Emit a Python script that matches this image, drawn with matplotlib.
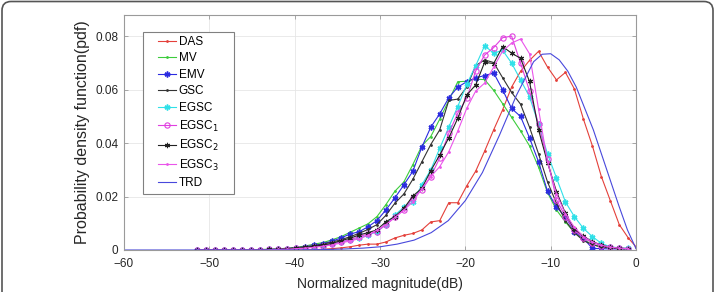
import numpy as np
import matplotlib
matplotlib.use('Agg')
import matplotlib.pyplot as plt
from matplotlib.patches import FancyBboxPatch, Rectangle
from matplotlib.transforms import IdentityTransform

plt.rcParams['font.family'] = ['Liberation Sans', 'DejaVu Sans']

# bin centres (dB) shared by the histogram curves
bins = [-51.4, -50.35, -49.3, -48.24, -47.19, -46.14, -45.09, -44.04, -42.98, -41.93,
        -40.88, -39.83, -38.78, -37.72, -36.67, -35.62, -34.57, -33.52, -32.46, -31.41,
        -30.36, -29.31, -28.26, -27.2, -26.15, -25.1, -24.05, -23.0, -21.94, -20.89,
        -19.84, -18.79, -17.74, -16.68, -15.63, -14.58, -13.53, -12.48, -11.42, -10.37,
        -9.32, -8.27, -7.22, -6.16, -5.11, -4.06, -3.01, -1.96, -0.9]

das = [0, 0, 0, 0, 0, 0, 0, 0, 0, 0,
       0, 0, 0, 0.0001, 0.0003, 0.0005, 0.0008, 0.0012, 0.0018, 0.0022,
       0.0022, 0.003, 0.0045, 0.0055, 0.0062, 0.0075, 0.0105, 0.011, 0.0177, 0.0177,
       0.024, 0.0295, 0.037, 0.045, 0.0525, 0.061, 0.0669, 0.071, 0.0744, 0.0685,
       0.0637, 0.0665, 0.0603, 0.049, 0.039, 0.0275, 0.0185, 0.0095, 0.0045]
das_end = 0.0012

mv = [0, 0, 0, 0, 0, 0, 0.0001, 0.0002, 0.0003, 0.0004,
      0.0007, 0.001, 0.0015, 0.0022, 0.0028, 0.0038, 0.005, 0.0066, 0.0082, 0.0098,
      0.0125, 0.017, 0.022, 0.0255, 0.032, 0.039, 0.0425, 0.049, 0.056, 0.063,
      0.0632, 0.064, 0.0638, 0.0598, 0.0548, 0.0497, 0.0446, 0.039, 0.031, 0.0215,
      0.015, 0.0105, 0.0065, 0.004, 0.002, 0.0012, 0.0008, 0.0005, 0.0004]

emv = [0, 0, 0, 0, 0, 0, 0, 0, 0.0001, 0.0002,
       0.0005, 0.0008, 0.0012, 0.0017, 0.0024, 0.0033, 0.0045, 0.006, 0.0068, 0.0087,
       0.011, 0.015, 0.0195, 0.0244, 0.0295, 0.0385, 0.046, 0.051, 0.057, 0.061,
       0.063, 0.0645, 0.0653, 0.0663, 0.060, 0.053, 0.050, 0.042, 0.033, 0.022,
       0.016, 0.0125, 0.0069, 0.0044, 0.0006, 0.0005, 0.0004, 0.0004, 0.0004]

gsc = [0, 0, 0, 0, 0, 0, 0.0001, 0.0001, 0.0002, 0.0003,
       0.0005, 0.0008, 0.0012, 0.0016, 0.0022, 0.003, 0.0038, 0.005, 0.0062, 0.0077,
       0.0095, 0.013, 0.0175, 0.021, 0.0265, 0.033, 0.0395, 0.045, 0.056, 0.0565,
       0.061, 0.069, 0.0712, 0.0702, 0.0645, 0.059, 0.0546, 0.046, 0.036, 0.0255,
       0.0175, 0.011, 0.0065, 0.0035, 0.002, 0.0011, 0.0007, 0.0005, 0.0004]

egsc = [0, 0, 0, 0, 0, 0, 0, 0.0001, 0.0002, 0.0003,
        0.0004, 0.0006, 0.0009, 0.0012, 0.0016, 0.0022, 0.003, 0.0037, 0.0044, 0.0055,
        0.0069, 0.0095, 0.0131, 0.016, 0.018, 0.0244, 0.030, 0.0381, 0.046, 0.0537,
        0.062, 0.069, 0.0765, 0.0737, 0.0748, 0.070, 0.0637, 0.0574, 0.047, 0.036,
        0.027, 0.018, 0.0125, 0.0081, 0.005, 0.0025, 0.0012, 0.0008, 0.0006]

egsc1 = [0, 0, 0, 0, 0, 0, 0, 0.0001, 0.0002, 0.0003,
         0.0004, 0.0006, 0.0009, 0.0012, 0.0016, 0.0022, 0.003, 0.0038, 0.005, 0.006,
         0.0068, 0.0095, 0.0122, 0.015, 0.0195, 0.0225, 0.0275, 0.0345, 0.0437, 0.0512,
         0.0568, 0.067, 0.073, 0.0758, 0.0795, 0.0801, 0.070, 0.0596, 0.047, 0.034,
         0.0188, 0.0125, 0.0075, 0.0044, 0.0028, 0.0016, 0.001, 0.0007, 0.0005]

egsc2 = [0, 0, 0, 0, 0, 0, 0, 0.0001, 0.0002, 0.0003,
         0.0005, 0.0007, 0.001, 0.0014, 0.0019, 0.0025, 0.0035, 0.0044, 0.0056, 0.0065,
         0.0075, 0.0106, 0.0125, 0.0156, 0.0202, 0.0231, 0.0297, 0.0356, 0.042, 0.0493,
         0.058, 0.0618, 0.0703, 0.0698, 0.0762, 0.0737, 0.0718, 0.0631, 0.045, 0.0327,
         0.0219, 0.0137, 0.0078, 0.0052, 0.0031, 0.0019, 0.001, 0.0007, 0.0005]

egsc3 = [0, 0, 0, 0, 0, 0, 0, 0, 0.0001, 0.0002,
         0.0003, 0.0005, 0.0007, 0.001, 0.0014, 0.0019, 0.0026, 0.0034, 0.0042, 0.0055,
         0.0075, 0.0095, 0.0122, 0.015, 0.018, 0.023, 0.0275, 0.0312, 0.0368, 0.0445,
         0.053, 0.0595, 0.0625, 0.0685, 0.0745, 0.0775, 0.079, 0.0735, 0.0527, 0.033,
         0.021, 0.0135, 0.0085, 0.005, 0.003, 0.0018, 0.0011, 0.0007, 0.0005]

trd_x = [-60, -40, -36, -34, -32, -30, -28, -26, -24, -22, -20, -18, -16, -14,
         -12, -11, -10, -9, -8, -7, -6, -5, -4, -3, -2, -1, 0]
trd = [0, 0, 0.0002, 0.0004, 0.0007, 0.0012, 0.0022, 0.0037, 0.0065, 0.011, 0.0185,
       0.029, 0.043, 0.058, 0.0705, 0.0733, 0.0735, 0.0712, 0.067, 0.061, 0.053, 0.045,
       0.0355, 0.026, 0.0165, 0.0075, 0.0005]

fig = plt.figure(figsize=(7.15, 2.92), dpi=100)
ax = fig.add_axes([124/715, 1 - 250/292, 512/715, 235/292])

ast = (6, 2, 0)
ax.plot(bins + [0], das + [das_end], color='#e4403a', lw=0.8, marker='.', ms=2, label='DAS')
ax.plot(bins, mv, color='#3ccc3c', lw=0.8, marker='.', ms=2, label='MV')
ax.plot(bins, emv, color='#2b2be0', lw=0.8, marker=ast, ms=4.2, mew=1.1, label='EMV')
ax.plot(bins, gsc, color='#333333', lw=0.8, marker='.', ms=2, label='GSC')
ax.plot(bins, egsc, color='#30e0e8', lw=0.8, marker=ast, ms=4.2, mew=1.1, label='EGSC')
ax.plot(bins, egsc1, color='#e040e0', lw=0.8, marker='o', ms=3.8, mfc='none', mew=0.8,
        label='EGSC$_1$')
ax.plot(bins, egsc2, color='#222222', lw=0.8, marker=ast, ms=3.8, mew=0.8, label='EGSC$_2$')
ax.plot(bins, egsc3, color='#ea55ea', lw=0.8, marker='.', ms=2, label='EGSC$_3$')
ax.plot(trd_x, trd, color='#4848dc', lw=0.8, label='TRD')

ax.set_xlim(-60, 0)
ax.set_ylim(0, 0.088)
ax.set_xticks([-60, -50, -40, -30, -20, -10, 0])
ax.set_yticks([0, 0.02, 0.04, 0.06, 0.08])
ax.set_yticklabels(['0', '0.02', '0.04', '0.06', '0.08'])
ax.tick_params(direction='in', top=True, right=True, length=3, width=0.6,
               labelsize=8.5, colors='#9a9a9a', labelcolor='#262626')
ax.tick_params(axis='x', pad=6)
ax.tick_params(axis='y', pad=4)
ax.grid(True, color='#e6e6e6', lw=0.6)
ax.set_axisbelow(True)
for s in ax.spines.values():
    s.set_color('#9a9a9a')
    s.set_linewidth(0.8)

ax.set_xlabel('Normalized magnitude(dB)', fontsize=10, color='#262626', labelpad=5)
ax.set_ylabel('Probability density function(pdf)', fontsize=11.5, color='#262626',
              labelpad=4)

# legend without its own frame, box drawn separately (MATLAB-like padding)
leg = ax.legend(loc='upper left', bbox_to_anchor=((158 - 124) / 512, (250 - 36) / 235),
                fontsize=8.5, frameon=False, handlelength=1.55, handletextpad=0.2,
                labelspacing=0.38, borderpad=0, borderaxespad=0)
ax.add_patch(Rectangle(((143 - 124) / 512, (250 - 194) / 235), 91 / 512, 162 / 235,
                       transform=ax.transAxes, facecolor='white', edgecolor='#808080',
                       lw=0.8, zorder=4))
leg.set_zorder(5)

# rounded frame around the figure (bottom part cut off), in pixels
frame = FancyBboxPatch((2, -40), 711, 290.5 + 40,
                       boxstyle='round,pad=0,rounding_size=9',
                       transform=IdentityTransform(), fill=False, ec='#555555', lw=1.2)
fig.patches.append(frame)

fig.savefig('out.png', dpi=100)
